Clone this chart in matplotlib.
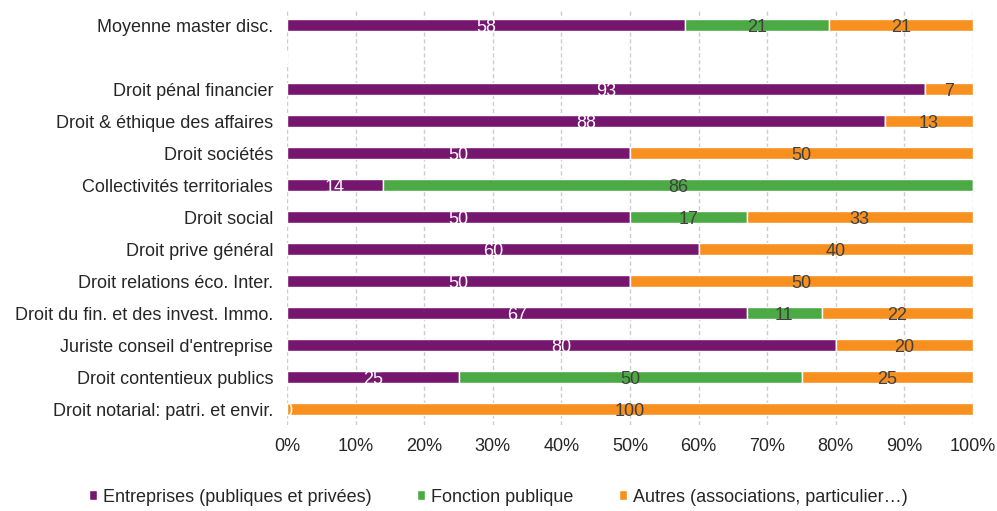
import numpy as np
import matplotlib.pyplot as plt

plt.rcParams['font.family'] = ['Liberation Sans', 'DejaVu Sans']

# Formations (top to bottom); "" leaves a blank row under the average
formations = [
    "Moyenne master disc.",
    "",
    "Droit pénal financier",
    "Droit & éthique des affaires",
    "Droit sociétés",
    "Collectivités territoriales",
    "Droit social",
    "Droit prive général",
    "Droit relations éco. Inter.",
    "Droit du fin. et des invest. Immo.",
    "Juriste conseil d'entreprise",
    "Droit contentieux publics",
    "Droit notarial: patri. et envir.",
]

entreprises = [58, 0, 93, 88, 50, 14, 50, 60, 50, 67, 80, 25, 0]
fonction_publique = [21, 0, 0, 0, 0, 86, 17, 0, 0, 11, 0, 50, 0]
autres = [21, 0, 7, 13, 50, 0, 33, 40, 50, 22, 20, 25, 100]

series_names = [
    "Entreprises (publiques et privées)",
    "Fonction publique",
    "Autres (associations, particulier\u2026)",
]
colors = ["#76166f", "#4caa44", "#f7901e"]
label_colors = ["white", "#404040", "#404040"]
fs = 13

data = np.array([entreprises, fonction_publique, autres], dtype=float)
totals = data.sum(axis=0)
totals[totals == 0] = 1
shares = data / totals

fig = plt.figure(figsize=(9.97, 5.11), dpi=100)
ax = fig.add_axes([287 / 997, 1 - 425 / 511, 686 / 997, 416 / 511])

y = np.arange(len(formations))
left = np.zeros(len(formations))
for k in range(3):
    ax.barh(y, shares[k], left=left, height=0.4, color=colors[k],
            edgecolor="white", linewidth=1, label=series_names[k], zorder=2)
    for i in range(len(formations)):
        if formations[i] == "":
            continue
        if data[k, i] > 0 or (k == 0 and totals[i] > 1):
            ax.text(left[i] + shares[k, i] / 2, y[i] + 0.07, f"{data[k, i]:.0f}",
                    ha="center", va="center", fontsize=fs,
                    color=label_colors[k], zorder=3)
    left += shares[k]

ax.set_ylim(len(formations) - 0.5, -0.5)
ax.set_xlim(0, 1)
ax.set_yticks(y)
ax.set_yticklabels(formations, fontsize=fs, color="#262626")
ax.set_xticks(np.linspace(0, 1, 11))
ax.set_xticklabels([f"{v}%" for v in range(0, 101, 10)], fontsize=fs, color="#262626")
ax.tick_params(axis="both", length=0)
ax.tick_params(axis="x", pad=9)
ax.tick_params(axis="y", pad=10)
ax.xaxis.grid(True, color="#cccccc", linestyle=(0, (3, 2)), linewidth=1, zorder=0)
ax.set_axisbelow(True)
for s in ax.spines.values():
    s.set_visible(False)

fig.legend(loc="center", bbox_to_anchor=(0.5, 1 - 497 / 511), ncol=3, frameon=False,
           fontsize=fs, handlelength=0.45, handleheight=0.45, handletextpad=0.35,
           columnspacing=2.5, labelcolor="#262626")

fig.savefig("out.png", dpi=100)
